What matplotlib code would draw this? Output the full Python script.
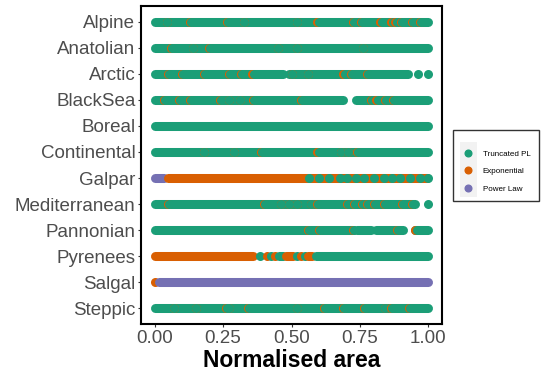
import matplotlib
matplotlib.use("Agg")
import matplotlib.pyplot as plt
from matplotlib.lines import Line2D
from matplotlib.patches import Rectangle
from matplotlib.transforms import offset_copy

plt.rcParams['font.family'] = 'Liberation Sans'

# Biogeographic regions, top to bottom
regions = ['Alpine', 'Anatolian', 'Arctic', 'BlackSea', 'Boreal', 'Continental',
           'Galpar', 'Mediterranean', 'Pannonian', 'Pyrenees', 'Salgal', 'Steppic']

# best fitting model codes and their legend names
model_names = {'TPL': 'Truncated PL', 'EXP': 'Exponential', 'PL': 'Power Law'}
palette = {'TPL': '#1B9E77', 'EXP': '#D95F02', 'PL': '#7570B3'}

# stretches of overlapping points: (first x, last x, model)
runs = {
    'Alpine':        [(0.00, 1.00, 'TPL')],
    'Anatolian':     [(0.00, 1.00, 'TPL')],
    'Arctic':        [(0.00, 0.468, 'TPL'), (0.492, 0.926, 'TPL'),
                      (0.961, 0.961, 'TPL'), (1.00, 1.00, 'TPL')],
    'BlackSea':      [(0.00, 0.689, 'TPL'), (0.737, 1.00, 'TPL')],
    'Boreal':        [(0.00, 1.00, 'TPL')],
    'Continental':   [(0.00, 1.00, 'TPL')],
    'Galpar':        [(0.00, 0.035, 'PL'), (0.05, 0.995, 'EXP')],
    'Mediterranean': [(0.00, 0.951, 'TPL'), (1.00, 1.00, 'TPL')],
    'Pannonian':     [(0.00, 0.72, 'TPL'), (0.741, 0.79, 'TPL'),
                      (0.81, 0.908, 'TPL'), (0.953, 1.00, 'TPL')],
    'Pyrenees':      [(0.00, 0.36, 'EXP'), (0.385, 0.385, 'TPL'), (0.41, 0.41, 'EXP'),
                      (0.425, 0.425, 'TPL'), (0.44, 0.44, 'EXP'), (0.455, 0.47, 'TPL'),
                      (0.48, 0.505, 'EXP'), (0.52, 0.52, 'TPL'), (0.535, 0.535, 'EXP'),
                      (0.55, 0.55, 'TPL'), (0.56, 0.575, 'EXP'), (0.59, 1.00, 'TPL')],
    'Salgal':        [(0.00, 0.00, 'EXP'), (0.016, 1.00, 'PL')],
    'Steppic':       [(0.00, 1.00, 'TPL')],
}

# exponential fits sitting among truncated PL points (partly covered)
exp_inside = {
    'Alpine':        [0.265, 0.595, 0.725, 0.755, 0.825, 0.865, 0.88, 0.90, 0.94, 0.97],
    'Arctic':        [0.10, 0.18, 0.27, 0.314, 0.357, 0.69, 0.716, 0.776],
    'BlackSea':      [0.533, 0.789, 0.81, 0.84, 0.87],
    'Continental':   [0.595],
    'Mediterranean': [0.594, 0.703, 0.728, 0.758, 0.777, 0.80, 0.837, 0.904, 0.94],
    'Pannonian':     [0.56, 0.60, 0.724, 0.886, 0.953],
    'Steppic':       [0.26, 0.34, 0.765, 0.862],
}

# exponential fits that are almost fully covered
exp_buried = {
    'Alpine':        [0.045, 0.13, 0.325, 0.52],
    'Anatolian':     [0.06, 0.14, 0.20, 0.45, 0.52, 0.76],
    'Arctic':        [0.05, 0.50, 0.56],
    'BlackSea':      [0.035, 0.09, 0.13, 0.24, 0.27, 0.31, 0.36],
    'Continental':   [0.18, 0.29, 0.39, 0.68, 0.705, 0.74],
    'Mediterranean': [0.05, 0.40, 0.46, 0.49, 0.52, 0.57],
    'Steppic':       [0.07, 0.15, 0.27, 0.52, 0.62, 0.69, 0.77, 0.84, 0.93],
}

# truncated PL fits on top of the exponential band
tpl_inside = {
    'Galpar': [0.563, 0.60, 0.636, 0.679, 0.703, 0.734, 0.764, 0.80, 0.837,
               0.868, 0.898, 0.934, 0.971, 1.00],
}

xticks = [0.00, 0.25, 0.50, 0.75, 1.00]

DOT = 6.5  # point diameter in pt

fig = plt.figure(figsize=(5.44, 3.73), dpi=100)
ax = fig.add_axes([141 / 544, 49 / 373, 301 / 544, 318 / 373])

shift_big = offset_copy(ax.transData, fig=fig, x=1.2, y=0, units='dots')
shift_small = offset_copy(ax.transData, fig=fig, x=0.45, y=0, units='dots')

for i, reg in enumerate(regions):
    for x0, x1, m in runs[reg]:
        if x0 == x1:
            ax.scatter([x0], [i], s=DOT ** 2, color=palette[m], linewidths=0, zorder=2)
        else:
            ax.plot([x0, x1], [i, i], color=palette[m], lw=DOT,
                    solid_capstyle='round', zorder=2)
    # orange point first, the next green point lands slightly to its right
    for pts, tr in ((exp_buried.get(reg, []), shift_small), (exp_inside.get(reg, []), shift_big)):
        for x in pts:
            ax.scatter([x], [i], s=DOT ** 2, color=palette['EXP'], linewidths=0, zorder=3)
            ax.scatter([x], [i], s=DOT ** 2, color=palette['TPL'], linewidths=0,
                       zorder=3, transform=tr)
    for x in tpl_inside.get(reg, []):
        ax.scatter([x], [i], s=DOT ** 2, color=palette['TPL'], linewidths=0, zorder=3)

ax.set_xlim(-0.05, 1.05)
ax.set_ylim(len(regions) - 0.4, -0.6)
ax.set_yticks(range(len(regions)))
ax.set_yticklabels(regions)
ax.set_xticks(xticks)
ax.set_xticklabels(['%.2f' % t for t in xticks])
ax.tick_params(length=2.5, width=0.8, color='#333333', labelcolor='#4D4D4D',
               labelsize=13.5, pad=1.5)
for s in ax.spines.values():
    s.set_linewidth(1.5)
    s.set_color('black')
ax.set_xlabel('Normalised area', fontsize=16.5, fontweight='bold', labelpad=2)

# legend with the light grey key column
fig.add_artist(Rectangle((460 / 544, 1 - 196.7 / 373), 17 / 544, 55 / 373,
                         transform=fig.transFigure, facecolor='#F2F2F2',
                         edgecolor='none', zorder=1))
handles = [Line2D([], [], marker='o', linestyle='', markersize=4.8, color=palette[k])
           for k in model_names]
leg = fig.legend(handles, list(model_names.values()), loc='center left',
                 bbox_to_anchor=(452.7 / 544, 0.5554), bbox_transform=fig.transFigure,
                 title=' ', title_fontsize=1.5,
                 fontsize=5.8, frameon=True, fancybox=False, borderpad=1.1,
                 labelspacing=1.22, handlelength=1.6, handletextpad=1.0, borderaxespad=0)
leg.get_frame().set_edgecolor('black')
leg.get_frame().set_facecolor('none')
leg.get_frame().set_linewidth(1.0)

fig.savefig('out.png', dpi=100)
